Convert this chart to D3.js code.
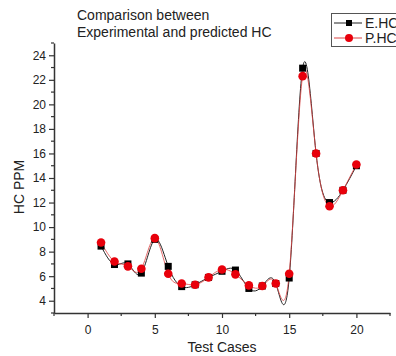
<!DOCTYPE html>
<html>
<head>
<meta charset="utf-8">
<script src="https://cdn.jsdelivr.net/npm/d3@7"></script>
<style>
  body { margin: 0; background: #fff; }
  text { font-family: Arial, "Liberation Sans", sans-serif; fill: #222; }
</style>
</head>
<body>
<div id="container"></div>
<script>
/* chart data */
var testCases = [1, 2, 3, 4, 5, 6, 7, 8, 9, 10, 11, 12, 13, 14, 15, 16, 17, 18, 19, 20];
var expHC  = [8.45, 6.95, 7.0, 6.25, 9.0, 6.8, 5.15, 5.3, 5.9, 6.4, 6.5, 5.0, 5.2, 5.4, 5.85, 22.95, 16.0, 12.0, 13.0, 15.0];
var predHC = [8.75, 7.2, 6.8, 6.6, 9.1, 6.2, 5.4, 5.3, 5.9, 6.55, 6.15, 5.25, 5.2, 5.4, 6.2, 22.3, 16.0, 11.7, 13.0, 15.1];
var xTicks = [0, 5, 10, 15, 20];
var yTicks = [4, 6, 8, 10, 12, 14, 16, 18, 20, 22, 24];

var width = 396, height = 356;

var svg = d3.select("#container")
            .append("svg")
            .attr("width", width)
            .attr("height", height);

/* scales */
var x = d3.scaleLinear().domain([-2.5, 22.5]).range([54, 390]);
var y = d3.scaleLinear().domain([3, 25]).range([313, 43]);

/* minor ticks */
var g = svg.append("g");
g.selectAll(".xminor")
  .data(d3.range(-2.5, 22.6, 2.5).filter(function(d) { return d % 5 !== 0; }))
  .enter().append("line")
    .attr("x1", function(d) { return x(d); })
    .attr("x2", function(d) { return x(d); })
    .attr("y1", y(3))
    .attr("y2", y(3) + 3)
    .attr("stroke", "#333").attr("stroke-width", 1.2);
g.selectAll(".yminor")
  .data(d3.range(3, 25.1, 1).filter(function(d) { return d % 2 !== 0; }))
  .enter().append("line")
    .attr("x1", x(-2.5) - 3)
    .attr("x2", x(-2.5))
    .attr("y1", function(d) { return y(d); })
    .attr("y2", function(d) { return y(d); })
    .attr("stroke", "#333").attr("stroke-width", 1.2);

/* axes */
var xAxis = svg.append("g")
  .attr("transform", "translate(0," + y(3) + ")")
  .call(d3.axisBottom(x).tickValues(xTicks).tickSize(5).tickSizeOuter(0));
var yAxis = svg.append("g")
  .attr("transform", "translate(" + x(-2.5) + ",0)")
  .call(d3.axisLeft(y).tickValues(yTicks).tickSize(5).tickSizeOuter(0));

[xAxis, yAxis].forEach(function(a) {
  a.select(".domain").attr("stroke", "#333").attr("stroke-width", 1.5);
  a.selectAll(".tick line").attr("stroke", "#333").attr("stroke-width", 1.2);
  a.selectAll(".tick text").style("font-size", "12px").attr("fill", "#333")
    .style("font-family", "Arial, 'Liberation Sans', sans-serif");
});
xAxis.selectAll(".tick text").attr("dy", "1.1em");

/* axis titles */
svg.append("text")
  .attr("x", 222).attr("y", 352)
  .attr("text-anchor", "middle")
  .style("font-size", "14px")
  .text("Test Cases");
svg.append("text")
  .attr("transform", "translate(24,187) rotate(-90)")
  .attr("text-anchor", "middle")
  .style("font-size", "14px")
  .text("HC PPM");

/* title */
svg.append("text").attr("x", 77).attr("y", 20).style("font-size", "14px").attr("fill", "#333")
  .text("Comparison between");
svg.append("text").attr("x", 77).attr("y", 37).style("font-size", "14px").attr("fill", "#333")
  .text("Experimental and predicted HC");

/* spline lines */
var line = function(vals) {
  return d3.line()
    .x(function(d, i) { return x(testCases[i]); })
    .y(function(d) { return y(d); })
    .curve(d3.curveNatural)(vals);
};
svg.append("path").attr("d", line(expHC))
  .attr("fill", "none").attr("stroke", "#222").attr("stroke-width", 1);
svg.append("path").attr("d", line(predHC))
  .attr("fill", "none").attr("stroke", "#d44").attr("stroke-width", 1).attr("opacity", 0.8);

/* markers */
svg.selectAll(".sq")
  .data(expHC)
  .enter().append("rect")
    .attr("class", "sq")
    .attr("x", function(d, i) { return x(testCases[i]) - 3.5; })
    .attr("y", function(d) { return y(d) - 3.5; })
    .attr("width", 7).attr("height", 7)
    .attr("fill", "#000");
svg.selectAll(".dot")
  .data(predHC)
  .enter().append("circle")
    .attr("class", "dot")
    .attr("cx", function(d, i) { return x(testCases[i]); })
    .attr("cy", function(d) { return y(d); })
    .attr("r", 4.3)
    .attr("fill", "#e8000b");

/* legend */
var lg = svg.append("g");
lg.append("rect").attr("x", 331.5).attr("y", 13.5).attr("width", 80).attr("height", 33)
  .attr("fill", "#fff").attr("stroke", "#555").attr("stroke-width", 1);
lg.append("line").attr("x1", 334).attr("x2", 362).attr("y1", 23).attr("y2", 23)
  .attr("stroke", "#222").attr("stroke-width", 1);
lg.append("rect").attr("x", 346).attr("y", 20).attr("width", 6).attr("height", 6).attr("fill", "#000");
lg.append("text").attr("x", 365).attr("y", 28).style("font-size", "14px").text("E.HC");
lg.append("line").attr("x1", 334).attr("x2", 362).attr("y1", 38).attr("y2", 38)
  .attr("stroke", "#d44").attr("stroke-width", 1);
lg.append("circle").attr("cx", 349).attr("cy", 38).attr("r", 4).attr("fill", "#e8000b");
lg.append("text").attr("x", 365).attr("y", 43).style("font-size", "14px").text("P.HC");
</script>
</body>
</html>
